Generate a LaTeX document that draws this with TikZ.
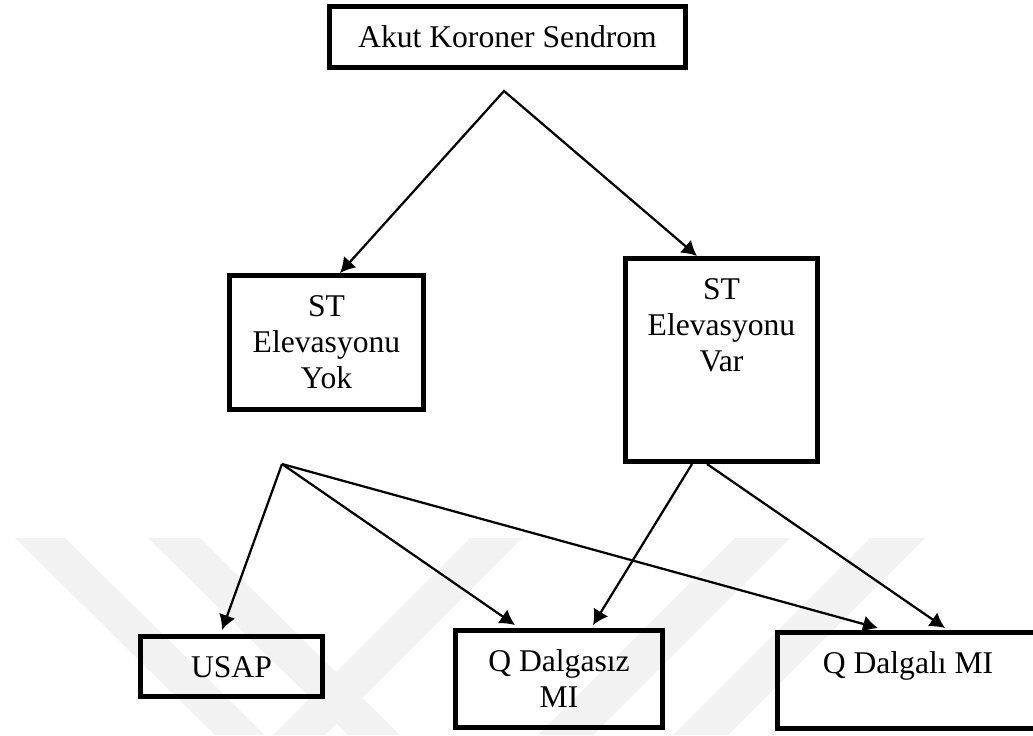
\documentclass[tikz,border=0pt]{standalone}
\usepackage{fontspec}
\setmainfont{Liberation Serif}
\usetikzlibrary{arrows.meta, positioning}

\begin{document}
\begin{tikzpicture}[x=0.02cm, y=-0.02cm,
        box/.style={draw, rectangle, line width=0.1cm, inner sep=0pt},
        lbl/.style={align=center, inner sep=0pt, anchor=base, font=\fontsize{18}{20.5}\selectfont},
        link/.style={-{Latex[length=0.3cm, width=0.34cm]}, line width=0.045cm},
        mark2/.style={{Latex[length=0.3cm, width=0.34cm]}-{Latex[length=0.3cm, width=0.34cm]}, line width=0.045cm}]
        \useasboundingbox (0,0) rectangle (1033,735);
        \clip (0,0) rectangle (1033,735);

        % faint watermark
        \fill[black!5] (15,538) -- (65,538) -- (265,735) -- (215,735) -- cycle;
        \fill[black!5] (148,538) -- (200,538) -- (400,735) -- (348,735) -- cycle;
        \fill[black!5] (470,538) -- (522,538) -- (325,735) -- (273,735) -- cycle;
        \fill[black!5] (735,538) -- (790,538) -- (593,735) -- (538,735) -- cycle;
        \fill[black!5] (870,538) -- (925,538) -- (728,735) -- (673,735) -- cycle;

        \node (acs) [box, minimum width=7.12cm, minimum height=1.22cm] at (507.5,37) {};
        \node (styok) [box, minimum width=3.88cm, minimum height=2.68cm] at (326.5,342.5) {};
        \node (stvar) [box, minimum width=3.84cm, minimum height=4.06cm] at (721.5,360) {};
        \node (usap) [box, minimum width=3.64cm, minimum height=1.2cm] at (231.5,666.5) {};
        \node (qdsiz) [box, minimum width=4.14cm, minimum height=1.94cm] at (559,679) {};
        \node (qdli) [box, minimum width=5.22cm, minimum height=1.92cm] at (908,680.5) {};

        % base of the last line
        \node (acs-t) [below=0.87cm of acs.north, lbl] {Akut Koroner Sendrom};
        \node (styok-t) [below=2.31cm of styok.north, lbl] {ST\\Elevasyonu\\Yok};
        \node (stvar-t) [below=2.31cm of stvar.north, lbl] {ST\\Elevasyonu\\Var};
        \node (usap-t) [below=0.87cm of usap.north, lbl] {USAP};
        \node (qdsiz-t) [below=1.59cm of qdsiz.north, lbl] {Q Dalgasız\\MI};
        \node (qdli-t) [below=0.87cm of qdli.north, lbl] {Q Dalgalı MI};

        \coordinate (split) at (504,91);
        \coordinate (fork) at (282,464);

        \draw[mark2] ([xshift=0.27cm]styok.north) -- (split) -- ([xshift=-0.49cm]stvar.north);
        \draw[link] (fork) -- ([xshift=-0.19cm, yshift=0.08cm]usap.north);
        \draw[link] (fork) -- ([xshift=-0.88cm, yshift=0.06cm]qdsiz.north);
        \draw[link] (fork) -- ([xshift=-0.6cm, yshift=0.04cm]qdli.north);
        \draw[link] ([xshift=-0.59cm]stvar.south) -- ([xshift=0.68cm, yshift=0.06cm]qdsiz.north);
        \draw[link] ([xshift=-0.29cm]stvar.south) -- ([xshift=0.74cm, yshift=0.04cm]qdli.north);
    \end{tikzpicture}
\end{document}
